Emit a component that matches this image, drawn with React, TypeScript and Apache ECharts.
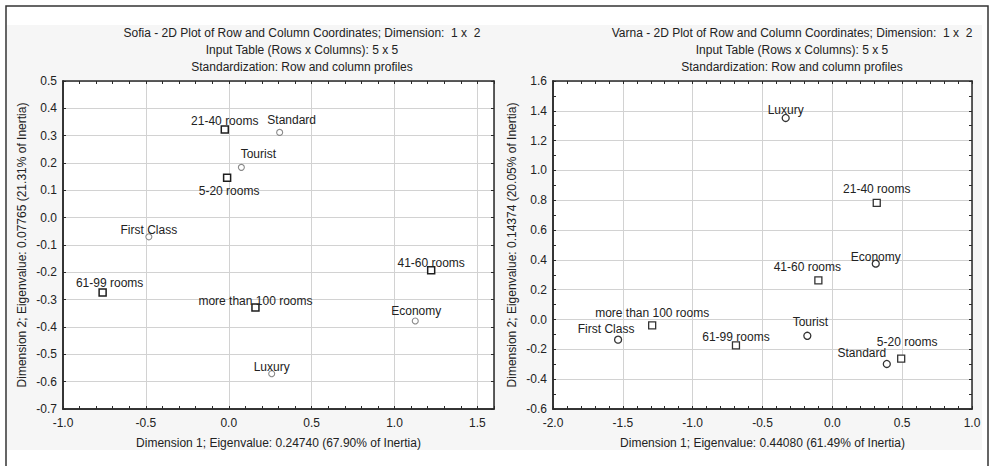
import React, { useEffect, useRef } from "react";
import * as echarts from "echarts";

// ---------- data ----------
const ROW_NAMES = ["5-20 rooms", "21-40 rooms", "41-60 rooms", "61-99 rooms", "more than 100 rooms"];
const COL_NAMES = ["Luxury", "First Class", "Standard", "Tourist", "Economy"];

const SOFIA_ROW_X = [-0.01, -0.024, 1.221, -0.761, 0.161];
const SOFIA_ROW_Y = [0.146, 0.323, -0.192, -0.274, -0.329];
const SOFIA_COL_X = [0.259, -0.482, 0.307, 0.076, 1.125];
const SOFIA_COL_Y = [-0.571, -0.07, 0.312, 0.184, -0.378];

const VARNA_ROW_X = [0.493, 0.318, -0.1, -0.69, -1.29];
const VARNA_ROW_Y = [-0.262, 0.782, 0.263, -0.173, -0.039];
const VARNA_COL_X = [-0.334, -1.534, 0.39, -0.179, 0.311];
const VARNA_COL_Y = [1.352, -0.135, -0.298, -0.109, 0.375];

const SOFIA_TITLE = [
  "Sofia - 2D Plot of Row and Column Coordinates; Dimension:  1 x  2",
  "Input Table (Rows x Columns): 5 x 5",
  "Standardization: Row and column profiles",
];
const VARNA_TITLE = [
  "Varna - 2D Plot of Row and Column Coordinates; Dimension:  1 x  2",
  "Input Table (Rows x Columns): 5 x 5",
  "Standardization: Row and column profiles",
];
const SOFIA_X_NAME = "Dimension 1; Eigenvalue: 0.24740 (67.90% of Inertia)";
const SOFIA_Y_NAME = "Dimension 2; Eigenvalue: 0.07765 (21.31% of Inertia)";
const VARNA_X_NAME = "Dimension 1; Eigenvalue: 0.44080 (61.49% of Inertia)";
const VARNA_Y_NAME = "Dimension 2; Eigenvalue: 0.14374 (20.05% of Inertia)";

// ---------- label placement (style) ----------
const SOFIA_ROW_LABEL_OFF = [[2, 13], [0, -8], [0, -7], [7, -10], [0, -7]];
const SOFIA_COL_LABEL_OFF = [[0, -7], [0, -7], [12, -12], [17, -13], [1, -10]];
const VARNA_ROW_LABEL_OFF = [[6, -17], [0, -14], [-11, -13], [0, -8], [0, -12]];
const VARNA_COL_LABEL_OFF = [[0, -8], [-12, -11], [-25, -11], [3, -14], [0, -7]];

const FONT = "'Liberation Sans', Arial, sans-serif";
const TXT = "#222";

function build(names: string[], xs: number[], ys: number[], offs: number[][]) {
  return names.map((n, i) => ({
    name: n,
    value: [xs[i], ys[i]],
    label: {
      show: true,
      position: "inside",
      formatter: n,
      offset: offs[i],
      color: TXT,
      fontSize: 12,
      fontFamily: FONT,
    },
  }));
}

function fmtEvery(step: number) {
  return (v: number) => {
    const k = v / step;
    return Math.abs(k - Math.round(k)) < 1e-6 ? v.toFixed(1) : "";
  };
}

export default function App() {
  const ref = useRef<HTMLDivElement>(null);
  useEffect(() => {
    if (!ref.current) return;
    const chart = echarts.init(ref.current, undefined, { renderer: "svg" });

    const boxLine = { show: true, onZero: false, lineStyle: { color: "#2a2a2a", width: 1.5 } };
    const labelStyle = { color: TXT, fontSize: 12, fontFamily: FONT };
    const nameStyle = { color: TXT, fontSize: 12, fontFamily: FONT };

    const mainX = (gi: number, min: number, max: number, interval: number, name: string) => ({
      type: "value",
      gridIndex: gi,
      position: "bottom",
      min,
      max,
      interval,
      name,
      nameLocation: "middle",
      nameGap: 28,
      nameTextStyle: nameStyle,
      axisLine: boxLine,
      axisTick: { show: false },
      axisLabel: { ...labelStyle, margin: 8, formatter: fmtEvery(interval), showMaxLabel: true, showMinLabel: true },
      splitLine: { show: true, lineStyle: { color: "#d2d2d2", width: 1 } },
    });
    const tickAxis = (gi: number, pos: string, min: number, max: number, interval: number) => ({
      type: "value",
      gridIndex: gi,
      position: pos,
      min,
      max,
      interval,
      axisLine: boxLine,
      axisTick: { show: true, inside: true, length: 3, lineStyle: { color: "#2a2a2a", width: 1 } },
      axisLabel: { show: false },
      splitLine: { show: false },
    });
    const mainY = (gi: number, min: number, max: number, interval: number, name: string) => ({
      type: "value",
      gridIndex: gi,
      position: "left",
      min,
      max,
      interval,
      name,
      nameLocation: "middle",
      nameGap: 35,
      nameTextStyle: nameStyle,
      axisLine: boxLine,
      axisTick: { show: false },
      axisLabel: { ...labelStyle, margin: 6, formatter: fmtEvery(interval) },
      splitLine: { show: true, lineStyle: { color: "#d2d2d2", width: 1 } },
    });

    const titleTexts = (cx: number, lines: string[]) =>
      lines.map((t, i) => ({
        type: "text",
        x: cx,
        y: 33 + i * 17,
        z: 10,
        style: {
          text: t,
          fill: TXT,
          fontSize: 12,
          fontFamily: FONT,
          textAlign: "center",
          textVerticalAlign: "middle",
        },
      }));

    const option: any = {
      animation: false,
      backgroundColor: "#ffffff",
      grid: [
        { left: 63, top: 81, width: 431, height: 328, containLabel: false },
        { left: 553, top: 81, width: 419, height: 328, containLabel: false },
      ],
      xAxis: [
        mainX(0, -1, 1.6, 0.5, SOFIA_X_NAME),
        tickAxis(0, "bottom", -1, 1.6, 0.1),
        tickAxis(0, "top", -1, 1.6, 0.1),
        mainX(1, -2, 1, 0.5, VARNA_X_NAME),
        tickAxis(1, "bottom", -2, 1, 0.1),
        tickAxis(1, "top", -2, 1, 0.1),
      ],
      yAxis: [
        mainY(0, -0.7, 0.5, 0.1, SOFIA_Y_NAME),
        tickAxis(0, "left", -0.7, 0.5, 0.1),
        tickAxis(0, "right", -0.7, 0.5, 0.1),
        mainY(1, -0.6, 1.6, 0.2, VARNA_Y_NAME),
        tickAxis(1, "left", -0.6, 1.6, 0.1),
        tickAxis(1, "right", -0.6, 1.6, 0.1),
      ],
      graphic: [
        {
          type: "rect",
          z: -10,
          silent: true,
          shape: { x: 7, y: 25, width: 975, height: 425 },
          style: { fill: "#f6f6f6", stroke: "none" },
        },
        {
          type: "rect",
          z: -9,
          silent: true,
          shape: { x: 63, y: 81, width: 431, height: 328 },
          style: { fill: "#ffffff", stroke: "none" },
        },
        {
          type: "rect",
          z: -9,
          silent: true,
          shape: { x: 553, y: 81, width: 419, height: 328 },
          style: { fill: "#ffffff", stroke: "none" },
        },
        {
          type: "rect",
          z: 10,
          silent: true,
          shape: { x: 6, y: 6, width: 982, height: 500 },
          style: { fill: "none", stroke: "#333", lineWidth: 1.5 },
        },
        ...titleTexts(302, SOFIA_TITLE),
        ...titleTexts(792, VARNA_TITLE),
      ],
      series: [
        {
          type: "scatter",
          xAxisIndex: 0,
          yAxisIndex: 0,
          symbol: "rect",
          symbolSize: 7,
          itemStyle: { color: "#ffffff", borderColor: "#1e1e1e", borderWidth: 1.5, opacity: 1 },
          data: build(ROW_NAMES, SOFIA_ROW_X, SOFIA_ROW_Y, SOFIA_ROW_LABEL_OFF),
        },
        {
          type: "scatter",
          xAxisIndex: 0,
          yAxisIndex: 0,
          symbol: "circle",
          symbolSize: 6,
          itemStyle: { color: "#ffffff", borderColor: "#8a8a8a", borderWidth: 1.1, opacity: 1 },
          data: build(COL_NAMES, SOFIA_COL_X, SOFIA_COL_Y, SOFIA_COL_LABEL_OFF),
        },
        {
          type: "scatter",
          xAxisIndex: 3,
          yAxisIndex: 3,
          symbol: "rect",
          symbolSize: 7,
          itemStyle: { color: "#ffffff", borderColor: "#333", borderWidth: 1.3, opacity: 1 },
          data: build(ROW_NAMES, VARNA_ROW_X, VARNA_ROW_Y, VARNA_ROW_LABEL_OFF),
        },
        {
          type: "scatter",
          xAxisIndex: 3,
          yAxisIndex: 3,
          symbol: "circle",
          symbolSize: 7,
          itemStyle: { color: "#ffffff", borderColor: "#333", borderWidth: 1.3, opacity: 1 },
          data: build(COL_NAMES, VARNA_COL_X, VARNA_COL_Y, VARNA_COL_LABEL_OFF),
        },
      ],
    };

    chart.setOption(option);
    return () => chart.dispose();
  }, []);

  return (
    <div
      ref={ref}
      style={{ position: "fixed", left: 0, top: 0, width: 990, height: 466 }}
    />
  );
}
